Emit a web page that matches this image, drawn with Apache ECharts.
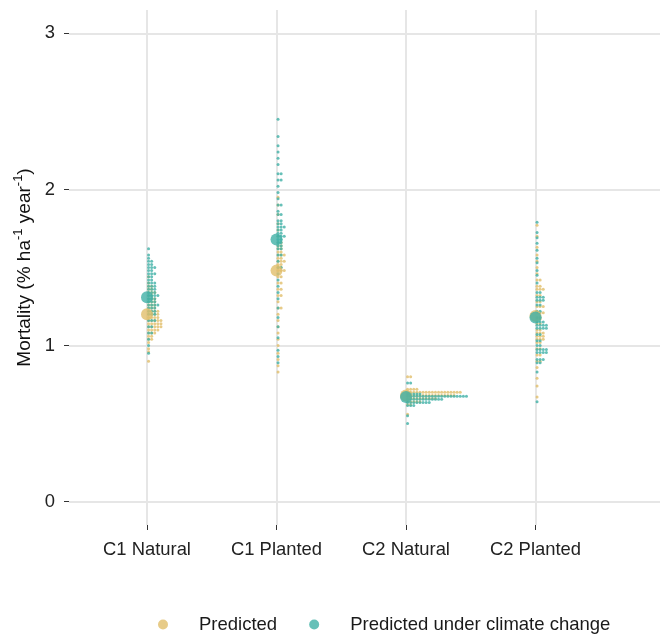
<!DOCTYPE html>
<html>
<head>
<meta charset="utf-8">
<script src="https://cdn.jsdelivr.net/npm/echarts@6/dist/echarts.min.js"></script>
<style>
  html, body { margin: 0; padding: 0; background: #fff; }
  #chart { width: 660px; height: 637px; }
</style>
</head>
<body>
<div id="chart"></div>
<script>
const categories = ["C1 Natural", "C1 Planted", "C2 Natural", "C2 Planted"];
const yTicks = [0, 1, 2, 3];
const predictedMean = [1.20, 1.48, 0.68, 1.19];
const climateMean = [1.31, 1.68, 0.67, 1.18];

// dot rows: [mortality value, number of stacked dots]
const predC1Natural = [[0.90,1],[0.96,1],[0.98,1],[1.02,1],[1.04,2],[1.06,2],[1.08,3],[1.10,4],[1.12,5],[1.14,5],[1.16,5],[1.18,4],[1.20,4],[1.22,4],[1.24,3],[1.26,3],[1.28,3],[1.30,3],[1.32,2],[1.34,3],[1.36,2],[1.38,2],[1.40,1],[1.44,1]];
const climC1Natural = [[0.95,1],[1.00,1],[1.04,1],[1.08,2],[1.12,2],[1.16,3],[1.20,3],[1.22,3],[1.24,3],[1.26,4],[1.28,3],[1.30,3],[1.32,4],[1.34,3],[1.36,3],[1.38,3],[1.40,3],[1.42,2],[1.44,2],[1.46,3],[1.48,2],[1.50,3],[1.52,2],[1.54,2],[1.56,1],[1.58,1],[1.62,1]];
const predC1Planted = [[0.83,1],[0.87,1],[0.91,1],[0.95,1],[1.00,1],[1.04,1],[1.08,1],[1.12,1],[1.16,1],[1.20,1],[1.24,2],[1.28,1],[1.32,2],[1.36,2],[1.40,2],[1.44,2],[1.48,3],[1.50,2],[1.52,2],[1.54,3],[1.56,2],[1.58,3],[1.60,2],[1.62,2],[1.64,2],[1.66,2],[1.70,1],[1.74,1],[1.78,1],[1.84,1],[1.90,1],[1.95,1]];
const climC1Planted = [[0.89,1],[0.93,1],[0.97,1],[1.05,1],[1.12,1],[1.18,1],[1.24,1],[1.30,1],[1.34,1],[1.38,1],[1.42,1],[1.46,1],[1.50,2],[1.54,1],[1.58,2],[1.62,2],[1.64,2],[1.66,2],[1.68,2],[1.70,3],[1.72,2],[1.74,2],[1.76,3],[1.78,2],[1.80,2],[1.84,2],[1.86,1],[1.90,2],[1.94,1],[1.98,1],[2.02,1],[2.06,2],[2.10,2],[2.16,1],[2.20,1],[2.24,1],[2.28,1],[2.34,1],[2.45,1]];
const predC2Natural = [[0.80,2],[0.72,4],[0.70,18],[0.68,16],[0.66,10],[0.64,5],[0.62,2],[0.56,1]];
const climC2Natural = [[0.76,2],[0.69,5],[0.675,20],[0.655,12],[0.635,8],[0.615,3],[0.55,1],[0.50,1]];
const predC2Planted = [[0.67,1],[0.74,1],[0.79,1],[0.86,1],[0.90,2],[0.94,2],[0.98,2],[1.02,2],[1.04,3],[1.06,3],[1.08,3],[1.10,2],[1.14,2],[1.17,2],[1.21,3],[1.25,3],[1.28,2],[1.32,2],[1.36,3],[1.38,2],[1.42,2],[1.46,1],[1.50,1],[1.54,1],[1.58,1],[1.63,1],[1.70,1],[1.77,1]];
const climC2Planted = [[0.64,1],[0.83,1],[0.89,2],[0.91,3],[0.955,4],[0.975,4],[1.00,2],[1.03,2],[1.07,2],[1.11,4],[1.13,4],[1.15,3],[1.18,2],[1.22,2],[1.26,2],[1.29,3],[1.31,3],[1.34,2],[1.40,1],[1.45,1],[1.48,1],[1.53,1],[1.56,1],[1.61,1],[1.655,1],[1.69,1],[1.725,1],[1.79,1]];

const YELLOW = "#E1BE6A";
const TEAL = "#40B0A6";
const DOT = 3.1;
const FONT = "Liberation Sans";

// expand rows into stacked dots, stacking to the right of the category
function dots(groups) {
  const out = [];
  groups.forEach((rows, i) => {
    rows.forEach(([v, n]) => {
      for (let k = 0; k < n; k++) {
        out.push({ value: [i + 1, v], symbolOffset: [DOT / 2 + k * DOT, 0] });
      }
    });
  });
  return out;
}

const catIdx = categories.map((c, i) => i + 1);
const chart = echarts.init(document.getElementById("chart"));
chart.setOption({
  animation: false,
  grid: { left: 69, right: 0, top: 10, bottom: 112 },
  legend: {
    data: ["Predicted", "Predicted under climate change"],
    left: 153,
    top: 610,
    icon: "circle",
    itemWidth: 10,
    itemHeight: 10,
    itemGap: 32,
    formatter: (name) => "{t|" + name + "}",
    textStyle: {
      rich: { t: { fontFamily: FONT, fontSize: 18.5, color: "#1a1a1a", padding: [0, 0, 0, 26] } },
    },
  },
  xAxis: {
    type: "value",
    min: 1 - 78 / 129.5,
    max: 4 + 124.5 / 129.5,
    axisLine: { show: false, onZero: false },
    axisTick: { show: true, customValues: catIdx, length: 5, lineStyle: { color: "#333" } },
    axisLabel: {
      customValues: catIdx,
      formatter: (v) => categories[Math.round(v) - 1],
      fontFamily: FONT,
      fontSize: 18.4,
      color: "#222",
      margin: 16,
    },
    splitLine: { show: true, customValues: catIdx, lineStyle: { color: "#E6E6E6", width: 2 } },
  },
  yAxis: {
    type: "value",
    min: -0.15,
    max: 3.15,
    axisLine: { show: false, onZero: false },
    axisTick: { show: true, customValues: yTicks, length: 5, lineStyle: { color: "#333" } },
    axisLabel: {
      customValues: yTicks,
      fontFamily: FONT,
      fontSize: 18.4,
      color: "#222",
      margin: 14,
    },
    splitLine: { show: true, customValues: yTicks, lineStyle: { color: "#E6E6E6", width: 2 } },
    name: "{a|Mortality (% ha}{s|-1}{a| year}{s|-1}{a|)}",
    nameLocation: "middle",
    nameGap: 30,
    nameTextStyle: {
      rich: {
        a: { fontFamily: FONT, fontSize: 19, color: "#111", lineHeight: 24 },
        s: { fontFamily: FONT, fontSize: 13, color: "#111", lineHeight: 13, verticalAlign: "top" },
      },
    },
  },
  series: [
    {
      name: "Predicted",
      type: "scatter",
      symbolSize: 3,
      itemStyle: { color: YELLOW },
      data: dots([predC1Natural, predC1Planted, predC2Natural, predC2Planted]),
      z: 2,
    },
    {
      name: "Predicted under climate change",
      type: "scatter",
      symbolSize: 3,
      itemStyle: { color: TEAL },
      data: dots([climC1Natural, climC1Planted, climC2Natural, climC2Planted]),
      z: 3,
    },
    {
      name: "Predicted",
      type: "scatter",
      symbolSize: 12,
      itemStyle: { color: YELLOW },
      data: predictedMean.map((v, i) => [i + 1, v]),
      z: 4,
    },
    {
      name: "Predicted under climate change",
      type: "scatter",
      symbolSize: 12,
      itemStyle: { color: TEAL },
      data: climateMean.map((v, i) => [i + 1, v]),
      z: 5,
    },
  ],
});
</script>
</body>
</html>
